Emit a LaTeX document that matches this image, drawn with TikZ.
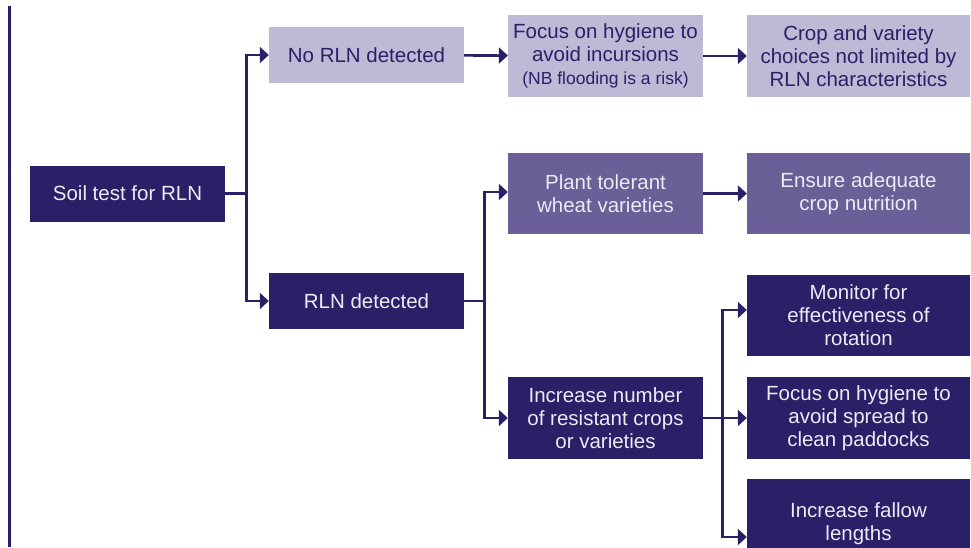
\documentclass[tikz,border=0pt]{standalone}
\usepackage{fontspec}
\setmainfont{Liberation Sans}
\usetikzlibrary{arrows.meta}
\definecolor{navy}{HTML}{2B1F68}
\definecolor{lilac}{HTML}{BEBAD6}
\definecolor{plum}{HTML}{6A5F96}
\definecolor{paletext}{HTML}{ECEAF4}
\tikzset{
  box/.style={minimum width=195pt, inner sep=0pt, align=center,
    font=\fontsize{20.5}{23}\selectfont},
  widebox/.style={box, minimum width=223pt},
  darkbox/.style={fill=navy, text=paletext},
  midbox/.style={fill=plum, text=paletext},
  lightbox/.style={fill=lilac, text=navy},
  arr/.style={draw=navy, line width=2.6pt, -{Triangle[length=9pt,width=16pt]}}
}
\begin{document}
\begin{tikzpicture}[x=1pt,y=-1pt]
      \useasboundingbox (0,0) rectangle (971,547);
      \clip (0,0) rectangle (971,547);
      \draw[navy, line width=3pt] (9,6) -- (9,547);
      \node[box, darkbox, minimum height=56pt] (soil) at (127.5,193.5) {Soil test for RLN};
      \node[box, lightbox, minimum height=56pt] (norln) at (366.5,55) {No RLN detected};
      \node[box, darkbox, minimum height=56pt] (rln) at (366.5,301) {RLN detected};
      \node[box, lightbox, minimum height=82pt] (hyg) at (605.5,56) {Focus on hygiene to\\avoid incursions\\{\fontsize{17.5}{23}\selectfont(NB flooding is a risk)}};
      \node[widebox, lightbox, minimum height=82pt] (crop) at (858.5,56) {Crop and variety\\choices not limited by\\RLN characteristics};
      \node[box, midbox, minimum height=81pt] (plant) at (605.5,193.5) {Plant tolerant\\wheat varieties};
      \node[widebox, midbox, minimum height=81pt] (nutr) at (858.5,193.5) {Ensure adequate\\crop nutrition};
      \node[box, darkbox, minimum height=82pt] (incr) at (605.5,418) {Increase number\\of resistant crops\\or varieties};
      \node[widebox, darkbox, minimum height=81pt] (moni) at (858.5,315.5) {Monitor for\\effectiveness of\\rotation};
      \node[widebox, darkbox, minimum height=82pt] (hyg2) at (858.5,418) {Focus on hygiene to\\avoid spread to\\clean paddocks};
      \node[widebox, darkbox, minimum height=90pt] (fall) at (858.5,524) {Increase fallow\\lengths};
      \draw[arr] (soil.east) -- ++(21,0) |- (norln.west);
      \draw[arr] (soil.east) -- ++(21,0) |- (rln.west);
      \draw[arr] (norln) -- (hyg);
      \draw[arr] (hyg) -- (crop);
      \draw[arr] (rln.east) -- ++(20,0) |- ([yshift=1.5pt]plant.west);
      \draw[arr] (rln.east) -- ++(20,0) |- (incr.west);
      \draw[arr] (plant) -- (nutr);
      \draw[arr] (incr.east) -- ++(19,0) |- ([yshift=5.5pt]moni.west);
      \draw[arr] (incr) -- (hyg2);
      \draw[arr] (incr.east) -- ++(19,0) |- ([yshift=-13pt]fall.west);
    \end{tikzpicture}
\end{document}
